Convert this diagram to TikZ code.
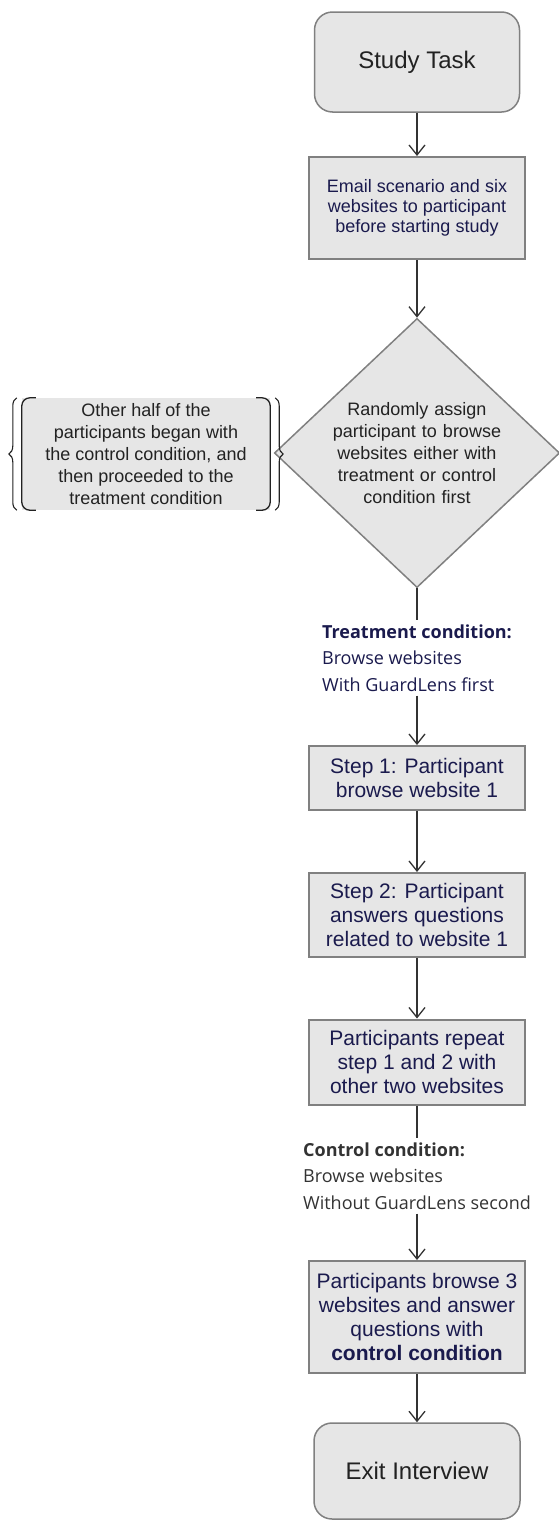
\documentclass[tikz,border=0pt]{standalone}
\usepackage{fontspec}
\setmainfont{Liberation Sans}
\newfontfamily\condfont{Open Sans}
\usetikzlibrary{shapes.geometric}
\usetikzlibrary{arrows.meta}
\usetikzlibrary{decorations.pathreplacing}
\definecolor{boxfill}{HTML}{E6E6E6}
\definecolor{boxline}{HTML}{808080}
\definecolor{navytext}{HTML}{1A1A4D}
\definecolor{arrowgray}{HTML}{333333}
\definecolor{darktext}{HTML}{222222}

\begin{document}
\begin{tikzpicture}[x=1pt,y=-1pt,
    termbox/.style={draw=boxline,fill=boxfill,line width=1.5pt,rounded corners=18pt,
        minimum width=205pt,minimum height=100pt,text=darktext,
        font=\fontsize{24}{28}\selectfont},
    flowbox/.style={draw=boxline,fill=boxfill,line width=2pt,minimum width=216pt,
        inner sep=0pt,align=center,text=navytext,font=\fontsize{21}{24}\selectfont},
    decision/.style={shape=diamond,draw=boxline,fill=boxfill,line width=1.5pt,aspect=1.06,
        inner sep=0pt,text width=178pt,align=center,text=darktext,
        font=\fontsize{18}{22}\selectfont},
    condlabel/.style={align=left,inner sep=4pt,font=\condfont\fontsize{18}{26.5}\selectfont},
    arr/.style={draw=arrowgray,line width=1.3pt,-{Straight Barb[length=10pt,width=16pt]}},
    link/.style={draw=arrowgray,line width=1.3pt}]
    \useasboundingbox (0,0) rectangle (558,1521);

    \node[termbox] (study) at (417,62) {Study Task};
    \node[flowbox,minimum height=102pt,font=\fontsize{18}{20}\selectfont] (email) at (417,208)
        {Email scenario and six\\websites to participant\\before starting study};
    \node[decision] (assign) at (417,453)
        {Randomly assign\\participant to browse\\websites either with\\treatment or control\\condition first};
    \node[condlabel,text=navytext] (treat) at (417,658)
        {\textbf{Treatment condition:}\\Browse websites\\With GuardLens first};
    \node[flowbox,minimum height=64pt] (step1) at (417,778) {Step 1: Participant\\browse website 1};
    \node[flowbox,minimum height=84pt] (step2) at (417,915) {Step 2: Participant\\answers questions\\related to website 1};
    \node[flowbox,minimum height=85pt] (repeat) at (417,1062) {Participants repeat\\step 1 and 2 with\\other two websites};
    \node[condlabel,text=arrowgray] (ctrl) at (417,1176)
        {\textbf{Control condition:}\\Browse websites\\Without GuardLens second};
    \node[flowbox,minimum height=112pt] (ctrlbox) at (417,1317)
        {Participants browse 3\\websites and answer\\questions with\\\textbf{control condition}};
    \node[termbox,minimum width=206pt,minimum height=96pt] (exit) at (417,1471) {Exit Interview};

    % side note
    \node[fill=boxfill,minimum width=248pt,minimum height=112pt,align=center,text=darktext,
        font=\fontsize{18}{22}\selectfont] (note) at (146,454)
        {Other half of the\\participants began with\\the control condition, and\\then proceeded to the\\treatment condition};
    \draw[darktext,line width=1.3pt,rounded corners=8pt] ([xshift=14pt]note.north west) -- (note.north west)
        -- (note.south west) -- ([xshift=14pt]note.south west);
    \draw[darktext,line width=1.3pt,rounded corners=8pt] ([xshift=-14pt]note.north east) -- (note.north east)
        -- (note.south east) -- ([xshift=-14pt]note.south east);
    \draw[darktext,line width=1.1pt,decorate,decoration={brace,amplitude=8pt}]
        ([xshift=-5pt]note.south west) -- ([xshift=-5pt]note.north west);
    \draw[darktext,line width=1.1pt,decorate,decoration={brace,amplitude=8pt}]
        ([xshift=5pt]note.north east) -- ([xshift=5pt]note.south east);

    \draw[arr] (study) -- (email);
    \draw[arr] (email) -- (assign);
    \draw[link] (assign) -- (treat);
    \draw[arr] (treat) -- (step1);
    \draw[arr] (step1) -- (step2);
    \draw[arr] (step2) -- (repeat);
    \draw[link] (repeat) -- (ctrl);
    \draw[arr] (ctrl) -- (ctrlbox);
    \draw[arr] (ctrlbox) -- (exit);
\end{tikzpicture}
\end{document}
